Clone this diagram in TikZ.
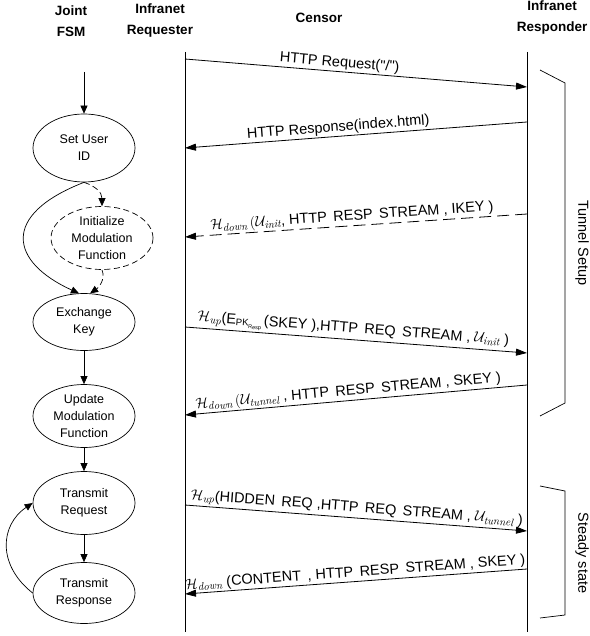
\documentclass[tikz,border=0pt]{standalone}
\usepackage{fontspec}
\newfontfamily\arialf{Liberation Sans}
\usetikzlibrary{arrows.meta,shapes.geometric}
\newcommand{\Hm}[1]{{\fontsize{15.5}{17}\selectfont$\mathcal{H}_{\mathit{#1}}$}}
\newcommand{\Um}[1]{{\fontsize{15.5}{17}\selectfont$\mathcal{U}_{\mathit{#1}}$}}
\newcommand{\Lp}{{\fontsize{15.5}{17}\selectfont$($}}
\newcommand{\dsp}{\ \,}
\begin{document}
\begin{tikzpicture}[x=1pt,y=-1pt,
  hdr/.style={font=\arialf\bfseries\fontsize{13.5}{21}\selectfont, align=center, inner sep=0pt},
  st/.style={draw, ellipse, line width=0.7pt, minimum width=102pt, minimum height=63pt, inner sep=0pt, font=\arialf\fontsize{12.5}{17}\selectfont, align=center},
  msg/.style={-{Triangle[length=11pt,width=7pt]}, line width=0.8pt},
  fsma/.style={-{Triangle[length=8pt,width=7pt]}, line width=0.7pt},
  lbl/.style={font=\arialf\fontsize{14.5}{16}\selectfont, sloped, above, inner sep=1.5pt},
  life/.style={line width=0.7pt},
  brace/.style={line width=0.7pt},
  side/.style={font=\arialf\fontsize{14.5}{16}\selectfont, rotate=-90},
  ldash/.style={dash pattern=on 12pt off 6pt},
  sdash/.style={dash pattern=on 6pt off 3.5pt},
]
\useasboundingbox (0,0) rectangle (589,636);

% headers
\node[hdr] (hj) at (71,21) {Joint\\FSM};
\node[hdr] (hr) at (160,21) {Infranet\\Requester};
\node[hdr] (hc) at (319,18) {Censor};
\node[hdr] (hs) at (552,18) {Infranet\\Responder};

% lifelines
\coordinate (rqt) at (185,52); \coordinate (rqb) at (185,632);
\coordinate (rst) at (527,52); \coordinate (rsb) at (527,632);
\draw[life] (rqt) -- (rqb);
\draw[life] (rst) -- (rsb);

% messages
\coordinate (m1a) at (185,59);  \coordinate (m1b) at (527,87);
\coordinate (m2a) at (527,122); \coordinate (m2b) at (185,148);
\coordinate (m3a) at (527,214); \coordinate (m3b) at (185,237);
\coordinate (m4a) at (185,327); \coordinate (m4b) at (527,353);
\coordinate (m5a) at (527,385); \coordinate (m5b) at (185,415);
\coordinate (m6a) at (185,505); \coordinate (m6b) at (527,531);
\coordinate (m7a) at (527,569); \coordinate (m7b) at (185,594);

\draw[msg] (m1a) -- node[lbl, pos=0.45] (l1) {HTTP Request("/")} (m1b);
\draw[msg] (m2a) -- node[lbl, pos=0.55] (l2) {HTTP Response(index.html)} (m2b);
\draw[msg, ldash] (m3a) -- node[lbl, pos=0.51] (l3) {\Hm{down}\,\Lp\Um{init}, HTTP\dsp RESP\dsp STREAM , IKEY )} (m3b);
\draw[msg] (m4a) -- node[lbl, pos=0.49] (l4) {\Hm{up}(E{\fontsize{9.5}{10}\selectfont\raisebox{-1.5pt}{PK}\raisebox{-4pt}{\fontsize{5.5}{6}\selectfont Resp}}\,(SKEY ),HTTP\dsp REQ\dsp STREAM , \Um{init} )} (m4b);
\draw[msg] (m5a) -- node[lbl, pos=0.52] (l5) {\Hm{down}\,\Lp\Um{tunnel} , HTTP\dsp RESP\dsp STREAM , SKEY )} (m5b);
\draw[msg] (m6a) -- node[lbl, pos=0.5] (l6) {\Hm{up}(HIDDEN\dsp REQ ,HTTP\dsp REQ\dsp STREAM , \Um{tunnel} )} (m6b);
\draw[msg] (m7a) -- node[lbl, pos=0.5] (l7) {\Hm{down} (CONTENT\dsp , HTTP\dsp RESP\dsp STREAM , SKEY )} (m7b);

% braces
\coordinate (b1a) at (540,70); \coordinate (b1b) at (565,83);
\coordinate (b1c) at (565,403); \coordinate (b1d) at (540,416);
\draw[brace] (b1a) -- (b1b) -- (b1c) -- (b1d);
\node[side] (tsu) at (582,243) {Tunnel Setup};
\coordinate (b2a) at (540,486); \coordinate (b2b) at (565,491);
\coordinate (b2c) at (565,615); \coordinate (b2d) at (540,618);
\draw[brace] (b2a) -- (b2b) -- (b2c) -- (b2d);
\node[side] (sst) at (582,553) {Steady state};

% FSM
\coordinate (start) at (84,72);
\node[st, minimum height=68pt] (su) at (84,148) {Set User\\ID};
\node[st, sdash] (ini) at (102,238) {Initialize\\Modulation\\Function};
\node[st, minimum height=57pt] (ex) at (84,322) {Exchange\\Key};
\node[st] (upd) at (84,416) {Update\\Modulation\\Function};
\node[st] (treq) at (84,503) {Transmit\\Request};
\node[st, minimum height=61pt] (tres) at (84,593) {Transmit\\Response};

\draw[fsma] (start) -- (su);
\draw[fsma, sdash] (su.south) .. controls (95,186) and (102,192) .. (ini.north);
\draw[fsma, sdash] (ini.south) .. controls (106,280) and (98,288) .. (ex.78);
\draw[fsma] (su.south) .. controls (0,215) and (10,262) .. (ex.100);
\draw[fsma] (ex) -- (upd);
\draw[fsma] (upd) -- (treq);
\draw[fsma] (treq) -- (tres);
\draw[fsma] (tres.west) .. controls (-3,565) and (0,525) .. (treq.west);
\end{tikzpicture}
\end{document}
